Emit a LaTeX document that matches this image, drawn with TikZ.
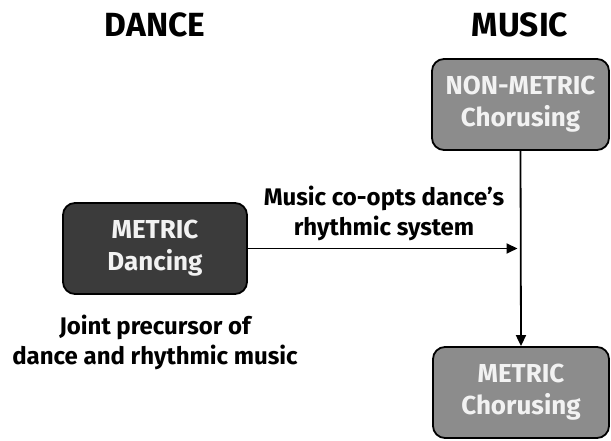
\documentclass[tikz,border=0pt]{standalone}
\usepackage{fontspec}
\setmainfont{Fira Sans}
\usetikzlibrary{arrows.meta}

\begin{document}
\begin{tikzpicture}[x=1pt, y=1pt,
    box/.style={draw=black, line width=1.8pt, rounded corners=12pt, minimum height=91pt,
        text=white!95!black, align=center, font=\fontsize{26}{32}\selectfont\bfseries},
    heading/.style={font=\fontsize{33.5}{38}\selectfont\bfseries},
    note/.style={align=center, font=\fontsize{24}{30}\selectfont\bfseries},
    link/.style={line width=1.8pt, -{Triangle[length=11pt, width=10pt]}}]
    \useasboundingbox (0,0) rectangle (611,441);

    \node[heading] (dance) at (155,416) {DANCE};
    \node[heading] (music) at (520,416) {MUSIC};

    \node[box, fill=black!45, minimum width=177pt] (nonmetric) at (520.5,336.5) {NON-METRIC\\Chorusing};
    \node[box, fill=black!77, minimum width=184pt] (dancing) at (155,192.5) {METRIC\\Dancing};
    \node[box, fill=black!45, minimum width=176pt] (chorusing) at (521,48.5) {METRIC\\Chorusing};

    \node[note] (coopts) at (384,228) {Music co-opts dance's\\rhythmic system};
    \node[note] (precursor) at (155,99) {Joint precursor of\\dance and rhythmic music};

    \coordinate (join) at (nonmetric.south |- dancing.east);
    \draw[link] (dancing.east) -- ([xshift=-3pt]join);
    \draw[link] (nonmetric.south) -- (chorusing.north);
\end{tikzpicture}
\end{document}
